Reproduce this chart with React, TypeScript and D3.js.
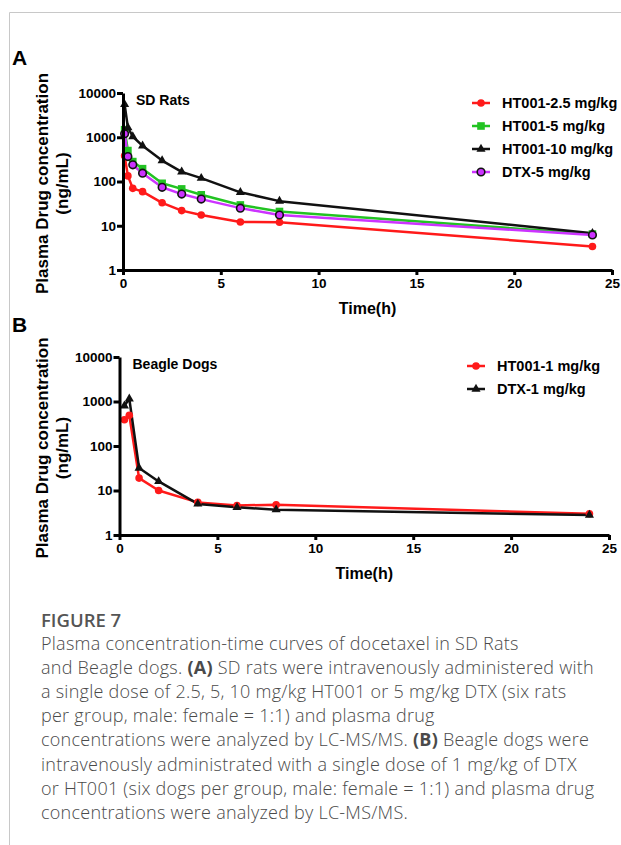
import * as d3 from "d3";
import * as React from "react";

// rat study (panel A)
const ratTimes = [0.083, 0.25, 0.5, 1, 2, 3, 4, 6, 8, 24];
const ratHT25 = [380, 134, 70, 59, 33, 22, 17.5, 12.2, 12, 3.4];
const ratHT5 = [1480, 500, 282, 195, 91, 68, 50, 29.5, 21, 6.5];
const ratHT10 = [5500, 1650, 1040, 640, 297, 165, 119, 57, 36, 6.8];
const ratDTX5 = [1200, 365, 238, 154, 74, 52, 40, 25, 17.5, 6.2];

// dog study (panel B)
const dogTimes = [0.25, 0.5, 1, 2, 4, 6, 8, 24];
const dogHT1 = [390, 490, 19, 10, 5.4, 4.6, 4.8, 3.0];
const dogDTX1 = [800, 1150, 32, 16, 5.0, 4.2, 3.7, 2.8];

const yTicks = [1, 10, 100, 1000, 10000];
const xTicks = [0, 5, 10, 15, 20, 25];

const panelA = [
  { name: "HT001-2.5 mg/kg", values: ratHT25, color: "#ff1a1a", marker: "circle" },
  { name: "HT001-5 mg/kg", values: ratHT5, color: "#22c322", marker: "square" },
  { name: "HT001-10 mg/kg", values: ratHT10, color: "#111111", marker: "triangle" },
  { name: "DTX-5 mg/kg", values: ratDTX5, color: "#cc33ff", marker: "ring" },
];
const panelB = [
  { name: "HT001-1 mg/kg", values: dogHT1, color: "#ff1a1a", marker: "circle" },
  { name: "DTX-1 mg/kg", values: dogDTX1, color: "#111111", marker: "triangle" },
];

const captionLines = [
  [["Plasma concentration-time curves of docetaxel in SD Rats", false]],
  [["and Beagle dogs. ", false], ["(A)", true], [" SD rats were intravenously administered with", false]],
  [["a single dose of 2.5, 5, 10 mg/kg HT001 or 5 mg/kg DTX (six rats", false]],
  [["per group, male: female = 1:1) and plasma drug", false]],
  [["concentrations were analyzed by LC-MS/MS. ", false], ["(B)", true], [" Beagle dogs were", false]],
  [["intravenously administrated with a single dose of 1 mg/kg of DTX", false]],
  [["or HT001 (six dogs per group, male: female = 1:1) and plasma drug", false]],
  [["concentrations were analyzed by LC-MS/MS.", false]],
];

const font = "Liberation Sans, Arial, sans-serif";

function drawMarker(g, kind, color, cx, cy) {
  if (kind === "circle") {
    g.append("circle").attr("cx", cx).attr("cy", cy).attr("r", 3.8).attr("fill", color);
  } else if (kind === "square") {
    g.append("rect").attr("x", cx - 3.8).attr("y", cy - 3.8).attr("width", 7.6).attr("height", 7.6).attr("fill", color);
  } else if (kind === "triangle") {
    g.append("path")
      .attr("d", d3.symbol().type(d3.symbolTriangle).size(36)())
      .attr("transform", `translate(${cx},${cy})`)
      .attr("fill", color);
  } else {
    g.append("circle").attr("cx", cx).attr("cy", cy).attr("r", 3.8)
      .attr("fill", color).attr("stroke", "#111").attr("stroke-width", 1.6);
  }
}

function drawPanel(svg, opts) {
  const { left, right, top, bottom, times, series, title, letter, letterY, legendX, legendY } = opts;
  const x = d3.scaleLinear().domain([0, 25]).range([left, right]);
  const y = d3.scaleLog().domain([1, 10000]).range([bottom, top]);
  const g = svg.append("g");

  g.append("text").attr("x", 12).attr("y", letterY).attr("font-size", 21)
    .attr("font-weight", "bold").attr("font-family", font).text(letter);

  series.forEach((s) => {
    const pts = times.map((t, i) => [t, s.values[i]]);
    g.append("path")
      .datum(pts)
      .attr("fill", "none")
      .attr("stroke", s.color)
      .attr("stroke-width", 2.5)
      .attr("stroke-linejoin", "round")
      .attr("d", d3.line().x((d) => x(d[0])).y((d) => y(d[1])));
  });
  // markers on top of the lines
  series.forEach((s) => {
    times.forEach((t, i) => drawMarker(g, s.marker, s.color, x(t), y(s.values[i])));
  });

  const yAxis = g.append("g")
    .attr("transform", `translate(${left},0)`)
    .call(d3.axisLeft(y).tickValues(yTicks).tickFormat(d3.format("d")).tickSize(6).tickSizeOuter(0));
  const xAxis = g.append("g")
    .attr("transform", `translate(0,${bottom})`)
    .call(d3.axisBottom(x).tickValues(xTicks).tickSize(5).tickSizeOuter(0));
  [yAxis, xAxis].forEach((a) => {
    a.select(".domain").attr("stroke", "#000").attr("stroke-width", 3);
    a.selectAll(".tick line").attr("stroke", "#000").attr("stroke-width", 3);
    a.selectAll(".tick text").attr("font-size", 13.5).attr("font-weight", "bold")
      .attr("font-family", font).attr("fill", "#000");
  });
  yAxis.selectAll(".tick text").attr("x", -7);

  g.append("text").attr("x", (left + right) / 2).attr("y", bottom + 44)
    .attr("text-anchor", "middle").attr("font-size", 16).attr("font-weight", "bold")
    .attr("font-family", font).text("Time(h)");

  const mid = (top + bottom) / 2 + 2;
  g.append("text").attr("transform", `translate(48,${mid}) rotate(-90)`)
    .attr("text-anchor", "middle").attr("font-size", 17).attr("font-weight", "bold")
    .attr("font-family", font).text("Plasma Drug concentration");
  g.append("text").attr("transform", `translate(68,${mid}) rotate(-90)`)
    .attr("text-anchor", "middle").attr("font-size", 17).attr("font-weight", "bold")
    .attr("font-family", font).text("(ng/mL)");

  g.append("text").attr("x", left + 13).attr("y", top + 12).attr("font-size", 14)
    .attr("font-weight", "bold").attr("font-family", font).text(title);

  series.forEach((s, i) => {
    const ly = legendY + i * 23;
    g.append("line").attr("x1", legendX).attr("x2", legendX + 18).attr("y1", ly).attr("y2", ly)
      .attr("stroke", s.color).attr("stroke-width", 2.5);
    drawMarker(g, s.marker, s.color, legendX + 9, ly);
    g.append("text").attr("x", legendX + 30).attr("y", ly + 5).attr("font-size", 14.5)
      .attr("font-weight", "bold").attr("font-family", font).text(s.name);
  });
}

export default function App() {
  const ref = React.useRef(null);

  React.useEffect(() => {
    const svg = d3.select(ref.current);
    svg.selectAll("*").remove();

    // page frame
    svg.append("line").attr("x1", 9.5).attr("x2", 9.5).attr("y1", 12.5).attr("y2", 845)
      .attr("stroke", "#c8c8c8").attr("stroke-width", 1);
    svg.append("line").attr("x1", 9.5).attr("x2", 621).attr("y1", 12.5).attr("y2", 12.5)
      .attr("stroke", "#c8c8c8").attr("stroke-width", 1);

    drawPanel(svg, {
      left: 123, right: 612, top: 93, bottom: 270, times: ratTimes, series: panelA,
      title: "SD Rats", letter: "A", letterY: 65, legendX: 472, legendY: 103,
    });
    drawPanel(svg, {
      left: 119.5, right: 609, top: 357, bottom: 535, times: dogTimes, series: panelB,
      title: "Beagle Dogs", letter: "B", letterY: 332, legendX: 467, legendY: 366,
    });

    svg.append("text").attr("x", 41).attr("y", 627).attr("font-size", 18.5)
      .attr("font-weight", 600).attr("font-family", "Open Sans").attr("fill", "#555")
      .text("FIGURE 7");

    captionLines.forEach((parts, i) => {
      const t = svg.append("text").attr("x", 41).attr("y", 650 + i * 24.1)
        .attr("font-size", 18).attr("letter-spacing", 0.25).attr("font-family", "Open Sans")
        .attr("font-weight", 300).attr("fill", "#4a4a4a");
      parts.forEach(([str, bold]) => {
        t.append("tspan").attr("font-weight", bold ? 700 : 300).text(str);
      });
    });
  }, []);

  return (
    <svg ref={ref} width={621} height={845}
      style={{ position: "absolute", left: 0, top: 0, background: "#fff" }} />
  );
}
